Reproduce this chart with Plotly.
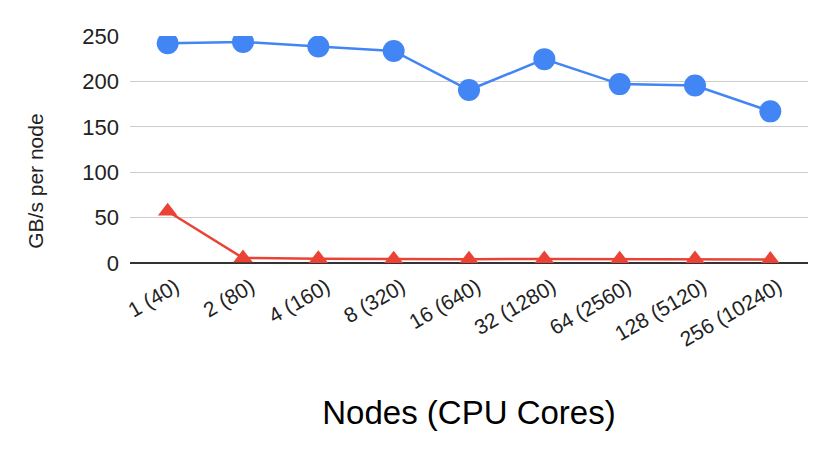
import plotly.graph_objects as go

categories = ["1 (40)", "2 (80)", "4 (160)", "8 (320)", "16 (640)",
              "32 (1280)", "64 (2560)", "128 (5120)", "256 (10240)"]
blue_values = [242, 243.5, 238.5, 233.5, 190.5, 224.5, 197, 195.5, 167]
red_values = [57, 5.5, 4.8, 4.2, 4.2, 4.5, 4.2, 4.5, 3.8]

fig = go.Figure()
fig.add_trace(go.Scatter(
    x=categories, y=blue_values, mode="lines+markers",
    line=dict(color="#4285F4", width=2.5),
    marker=dict(symbol="circle", size=22, color="#4285F4"),
    showlegend=False,
))
fig.add_trace(go.Scatter(
    x=categories, y=red_values, mode="lines+markers",
    line=dict(color="#EA4335", width=2.5),
    marker=dict(symbol="triangle-up", size=17, color="#EA4335"),
    showlegend=False,
))

# page body has an 8px default margin, so the figure is sized to fit inside it
fig.update_layout(
    width=822, height=447,
    margin=dict(l=122, r=22, t=28, b=192),
    paper_bgcolor="white", plot_bgcolor="white",
    font=dict(family="Liberation Sans, Arial", color="#222222"),
    xaxis=dict(
        type="category", range=[-0.5, 8.5], automargin=False,
        tickangle=-30, tickfont=dict(size=21, color="#222222"),
        ticklabelshift=8, ticklabelstandoff=7,
        showgrid=False, ticks="", showline=False,
        title=dict(text="Nodes (CPU Cores)", font=dict(size=33, color="#000000"), standoff=51),
    ),
    yaxis=dict(
        range=[0, 250], tickvals=[0, 50, 100, 150, 200, 250], automargin=False,
        tickfont=dict(size=22, color="#222222"),
        gridcolor="#cccccc", gridwidth=1,
        zeroline=True, zerolinecolor="#333333", zerolinewidth=1.5,
        showline=False, ticks="", ticklabelstandoff=10,
    ),
    annotations=[dict(
        text="GB/s per node", textangle=-90, showarrow=False,
        xref="paper", yref="paper", x=-0.1386, y=0.358,
        xanchor="center", yanchor="middle",
        font=dict(size=21, color="#222222"),
    )],
)

fig.write_html("out.html")
